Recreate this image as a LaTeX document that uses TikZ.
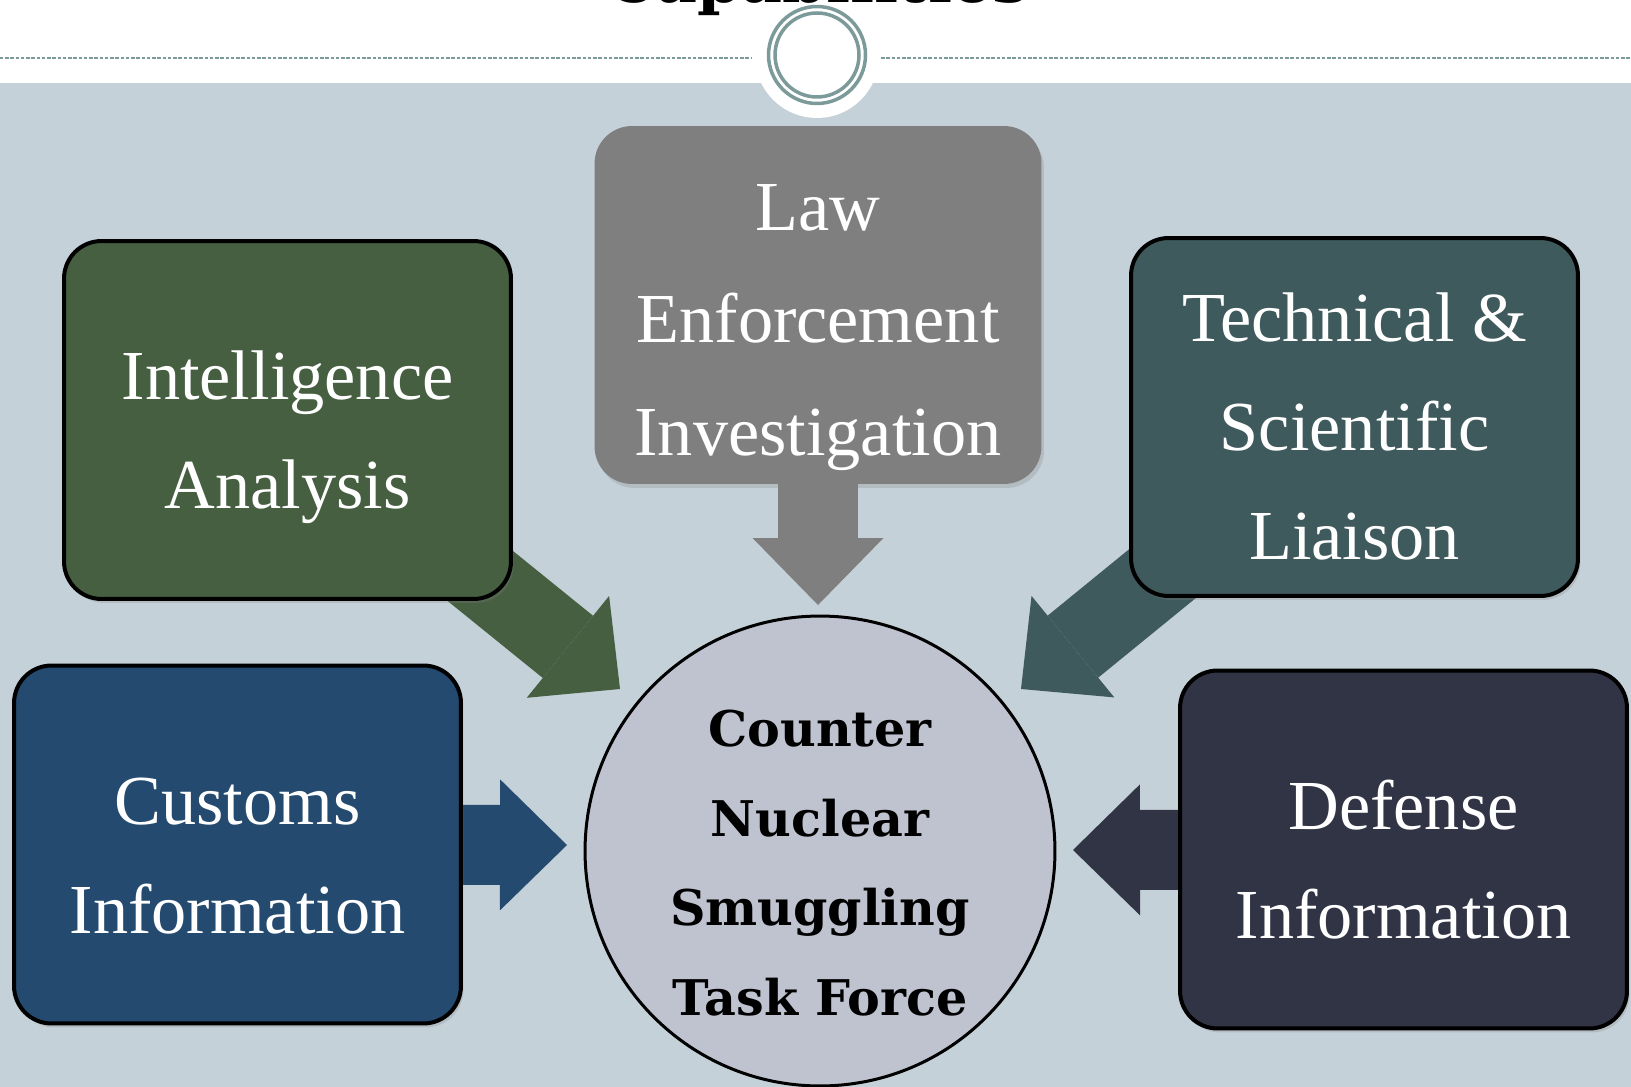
\documentclass[tikz,border=0pt]{standalone}
\usepackage{fontspec}
\setmainfont{Liberation Serif}
\newfontfamily\hubfont{DejaVu Serif}
\usetikzlibrary{arrows.meta,shadows}

\definecolor{fondbleu}{HTML}{C5D1D8}
\definecolor{anneau}{HTML}{7B9A99}
\definecolor{vertfonce}{HTML}{465F41}
\definecolor{grismoyen}{HTML}{7F7F7F}
\definecolor{sarcelle}{HTML}{3F5A5C}
\definecolor{bleunuit}{HTML}{244A6F}
\definecolor{ardoise}{HTML}{313445}
\definecolor{lavande}{HTML}{BFC3D0}

\pgfdeclarelayer{fond}
\pgfdeclarelayer{fleches}
\pgfsetlayers{fond,fleches,main}

\begin{document}
\begin{tikzpicture}[x=0.02cm,y=-0.02cm]
    \tikzset{BoxStyle/.style =   {rectangle,rounded corners=0.75cm,minimum width=8.94cm,minimum height=7.16cm,
        fill=#1,draw=black,line width=0.08cm,text=white,align=center,font=\fontsize{40}{62}\selectfont,
        text height=111pt,text depth=10pt,
        drop shadow={shadow xshift=0.05cm,shadow yshift=-0.08cm,opacity=.25}}}
    \tikzset{ArrowStyle/.style = {draw=#1,line width=1.6cm,-{Triangle[length=1.34cm,width=2.62cm,line width=0pt]}}}
    \tikzset{HubStyle/.style =   {circle,minimum size=9.4cm,fill=lavande,draw=black,line width=0.06cm,align=center,
        font=\hubfont\bfseries\fontsize{28}{51}\selectfont,text height=187pt,text depth=0pt}}

    \useasboundingbox (0,0) rectangle (1631,1087);
    \clip (0,0) rectangle (1631,1087);

    \begin{pgfonlayer}{fond}
        \fill[white] (0,0) rectangle (1631,1087);
        \fill[fondbleu] (0,83) rectangle (1631,1087);
        \fill[white] (817,56) circle[radius=1.24cm];
        \draw[anneau,line width=0.03cm,dash pattern=on 0.07cm off 0.035cm] (0,58) -- (752,58) (881,58) -- (1631,58);
    \end{pgfonlayer}

    \draw[anneau,line width=0.07cm] (817,55) circle[radius=0.97cm] (817,55) circle[radius=0.84cm];
    \node (titre) at (817,3) [anchor=base,font=\hubfont\bfseries\fontsize{36}{40}\selectfont] {Capabilities};

    \node (intel)   at (287.5,420)   [BoxStyle=vertfonce] {Intelligence\\Analysis};
    \node (law)     at (818,305)     [BoxStyle=grismoyen,draw=none,font=\fontsize{40}{64}\selectfont,
                                      text height=181pt] {Law\\Enforcement\\Investigation};
    \node (tech)    at (1354.5,417)  [BoxStyle=sarcelle,text height=172pt] {Technical \&\\Scientific\\Liaison};
    \node (customs) at (237.5,844.5) [BoxStyle=bleunuit] {Customs\\Information};
    \node (defense) at (1403.5,849.5)[BoxStyle=ardoise] {Defense\\Information};
    \node (hub)     at (820,851)     [HubStyle] {Counter\\Nuclear\\Smuggling\\Task Force};

    \coordinate (tipIntel)   at (620,689);
    \coordinate (tipLaw)     at (818,605);
    \coordinate (tipTech)    at (1021,689);
    \coordinate (tipCustoms) at (567,845);
    \coordinate (tipDefense) at (1073,850);

    \begin{pgfonlayer}{fleches}
        \draw[ArrowStyle=vertfonce] (intel.center)   -- (tipIntel);
        \draw[ArrowStyle=grismoyen] (law.center)     -- (tipLaw);
        \draw[ArrowStyle=sarcelle]  (tech.center)    -- (tipTech);
        \draw[ArrowStyle=bleunuit]  (customs.center) -- (tipCustoms);
        \draw[ArrowStyle=ardoise]   (defense.center) -- (tipDefense);
    \end{pgfonlayer}
\end{tikzpicture}
\end{document}
